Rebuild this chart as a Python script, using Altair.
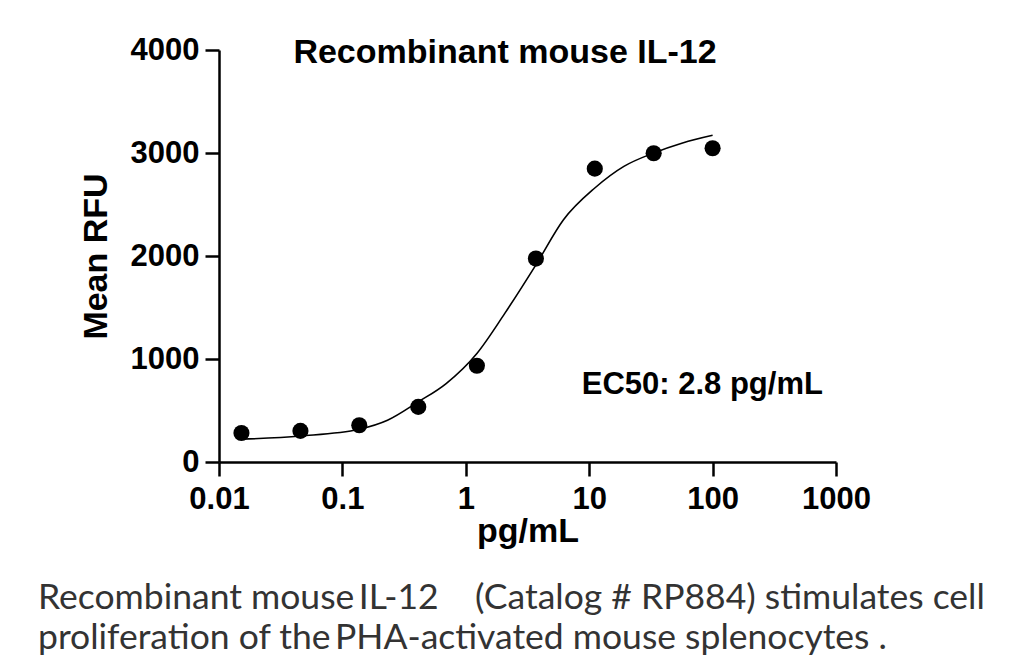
import altair as alt
import pandas as pd

# measured data points (3-fold dilution series)
conc = [0.0152, 0.0457, 0.137, 0.412, 1.23, 3.70, 11.1, 33.3, 100]
rfu = [282, 302, 357, 535, 934, 1975, 2848, 2997, 3046]

# fitted curve
curve_x = [0.0152, 0.0457, 0.137, 0.232, 0.412, 0.693, 1.23, 2.07, 3.70, 6.19, 11.1, 19.1, 33.3, 57.1, 100]
curve_y = [221, 253, 318, 405, 584, 762, 1054, 1443, 1914, 2352, 2660, 2870, 3000, 3098, 3172]

x_ticks = [0.01, 0.1, 1, 10, 100, 1000]
y_ticks = [0, 1000, 2000, 3000, 4000]

title_text = "Recombinant mouse IL-12"
ec50_text = "EC50: 2.8 pg/mL"
caption_line1 = "Recombinant mouse\u2009IL-12\u00a0\u00a0\u00a0\u00a0(Catalog # RP884) stimulates cell"
caption_line2 = "proliferation of the\u2009PHA-activated mouse splenocytes ."

pts = pd.DataFrame({"conc": conc, "rfu": rfu})
crv = pd.DataFrame({"conc": curve_x, "rfu": curve_y})

FONT = "Liberation Sans"

xenc = alt.X(
    "conc:Q",
    scale=alt.Scale(type="log", domain=[0.01, 1000], nice=False),
    axis=alt.Axis(values=x_ticks, format="~g", title="pg/mL", titlePadding=0, labelFlush=False),
)
yenc = alt.Y(
    "rfu:Q",
    scale=alt.Scale(domain=[0, 4000], nice=False),
    axis=alt.Axis(values=y_ticks, format="d", title="Mean RFU", titlePadding=17),
)

line = alt.Chart(crv).mark_line(color="black", strokeWidth=1.6, interpolate="monotone").encode(x=xenc, y=yenc)
dots = alt.Chart(pts).mark_circle(color="black", size=260, opacity=1).encode(x="conc:Q", y="rfu:Q")

ec50 = alt.Chart(pd.DataFrame({"conc": [8.7], "rfu": [750], "t": [ec50_text]})).mark_text(
    font=FONT, fontWeight="bold", fontSize=31, align="left", baseline="middle", color="black"
).encode(x="conc:Q", y="rfu:Q", text="t:N")

title = alt.Chart(pd.DataFrame({"t": [title_text]})).mark_text(
    font=FONT, fontWeight="bold", fontSize=34, align="center", baseline="alphabetic", color="black"
).encode(x=alt.value(286), y=alt.value(13), text="t:N")

cap1 = alt.Chart(pd.DataFrame({"t": [caption_line1]})).mark_text(
    font="Lato", fontSize=35.5, align="left", baseline="middle", color="#333333"
).encode(x=alt.value(-181), y=alt.value(548), text="t:N")

cap2 = alt.Chart(pd.DataFrame({"t": [caption_line2]})).mark_text(
    font="Lato", fontSize=35.5, align="left", baseline="middle", color="#333333"
).encode(x=alt.value(-181), y=alt.value(588), text="t:N")

chart = alt.layer(line, dots, ec50, title, cap1, cap2).properties(
    width=617, height=412,
    autosize=alt.AutoSizeParams(type="none"),
    padding={"left": 219, "top": 50, "right": 188, "bottom": 203},
).configure_view(stroke=None).configure_axis(
    grid=False,
    domainColor="black", domainWidth=2.5,
    tickColor="black", tickWidth=2.5, tickSize=14,
    labelFont=FONT, labelFontWeight="bold", labelFontSize=31, labelColor="black",
    titleFont=FONT, titleFontWeight="bold", titleFontSize=34, titleColor="black",
    labelPadding=6,
).configure_axisX(labelPadding=8)

chart.save("out.html", embed_options={"renderer": "svg", "actions": False})
